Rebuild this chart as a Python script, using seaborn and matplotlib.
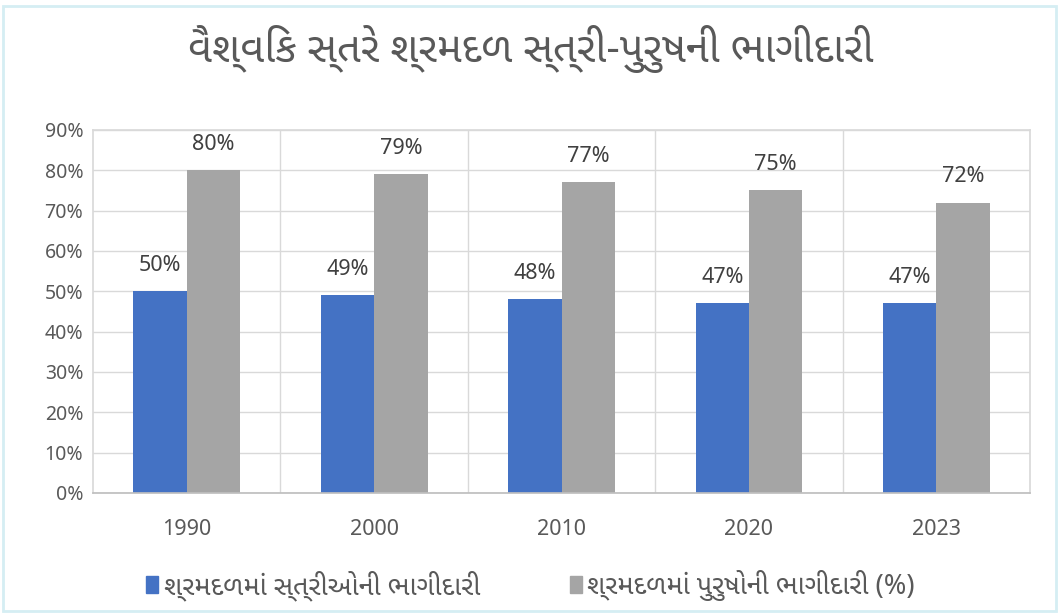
import matplotlib
matplotlib.use("Agg")
import matplotlib.pyplot as plt
import seaborn as sns
import pandas as pd
from matplotlib.patches import Rectangle

years = ["1990", "2000", "2010", "2020", "2023"]
women = [50, 49, 48, 47, 47]
men = [80, 79, 77, 75, 72]
series_names = ["શ્રમદળમાં સ્ત્રીઓની ભાગીદારી", "શ્રમદળમાં પુરુષોની ભાગીદારી (%)"]
title_text = "વૈશ્વિક સ્તરે શ્રમદળ સ્ત્રી-પુરુષની ભાગીદારી"
yticks = [0, 10, 20, 30, 40, 50, 60, 70, 80, 90]
colors = ["#4472C4", "#A5A5A5"]

df = pd.DataFrame({
    "year": years * 2,
    "value": women + men,
    "series": [series_names[0]] * len(years) + [series_names[1]] * len(years),
})

sns.set_theme(style="white")
num_font = ["Noto Sans", "DejaVu Sans"]
guj_font = ["Noto Sans Gujarati", "Noto Sans", "DejaVu Sans"]
plt.rcParams['font.family'] = num_font

fig = plt.figure(figsize=(10.61, 6.13), dpi=100)
ax = fig.add_axes([0.0877, 0.1958, 0.8831, 0.5922])

sns.barplot(data=df, x="year", y="value", hue="series", palette=colors,
            width=0.57, saturation=1, ax=ax, legend=False, order=years,
            hue_order=series_names, linewidth=0)

ax.set_ylim(0, 90)
ax.set_xlim(-0.5, len(years) - 0.5)
ax.set_yticks(yticks)
ax.set_yticklabels([f"{v}%" for v in yticks], fontsize=14, color="#595959")
ax.set_xticks(range(len(years)))
ax.set_xticklabels(years, fontsize=15.5, color="#595959")
ax.tick_params(axis="x", pad=19, length=0)
ax.tick_params(axis="y", pad=7, length=0)
ax.set_xlabel("")
ax.set_ylabel("")

ax.grid(axis="y", color="#D9D9D9", linewidth=1)
for xb in [i + 0.5 for i in range(len(years) - 1)]:
    ax.axvline(xb, color="#D9D9D9", linewidth=1, zorder=0)
ax.set_axisbelow(True)
for s in ["top", "right", "left"]:
    ax.spines[s].set_color("#D9D9D9")
ax.spines["bottom"].set_color("#BFBFBF")

for cont in ax.containers:
    ax.bar_label(cont, labels=[f"{int(v)}%" for v in cont.datavalues],
                 padding=11, fontsize=15.5, color="#404040")

fig.text(0.5, 0.92, title_text, ha="center", va="center", fontsize=30,
         color="#595959", family=guj_font)

handles = [Rectangle((0, 0), 1, 1, color=c) for c in colors]
fig.legend(handles, series_names, loc="center", bbox_to_anchor=(0.5, 0.045),
           ncol=2, frameon=False, handlelength=0.45,
           handleheight=0.6, columnspacing=3.3, handletextpad=0.2,
           labelcolor="#595959", prop={"family": guj_font, "size": 19.5})

# outer border
fig.patches.append(Rectangle((0.003, 0.003), 0.992, 0.988, transform=fig.transFigure,
                             fill=False, edgecolor="#D5EEF3", linewidth=2))

fig.savefig("out.png", dpi=100, facecolor="white")
